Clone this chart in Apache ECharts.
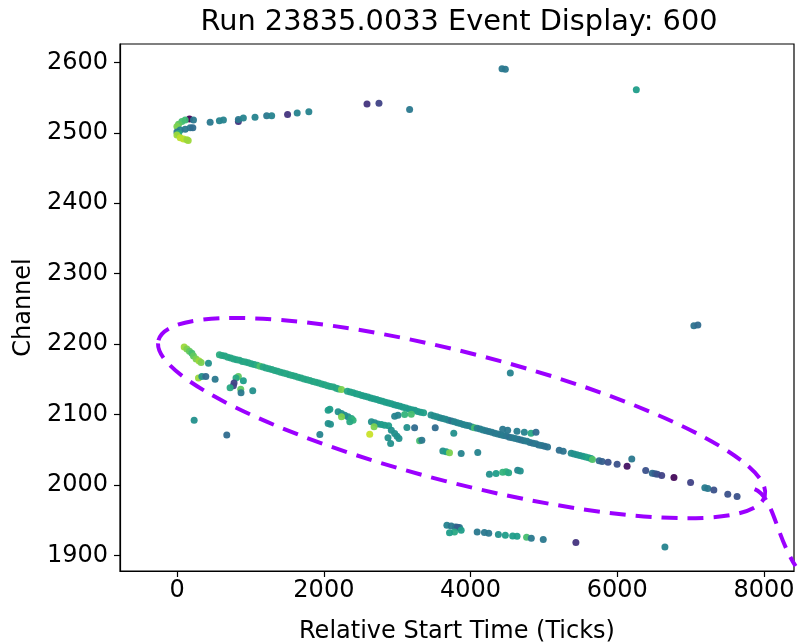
<!DOCTYPE html>
<html>
<head>
<meta charset="utf-8">
<script src="https://cdn.jsdelivr.net/npm/echarts@6/dist/echarts.min.js"></script>
<style>html,body{margin:0;padding:0;background:#fff;}#chart{width:798px;height:643px;}</style>
</head>
<body>
<div id="chart"></div>
<script>
// ---- data: [relative start time (ticks), channel, colour value 0..1] ----
const titleText = 'Run 23835.0033 Event Display: 600';
const xTicks = [0, 2000, 4000, 6000, 8000];
const yTicks = [1900, 2000, 2100, 2200, 2300, 2400, 2500, 2600];

const topHits = [
  [167,2519.5,0.0],[222,2518,0.4],[109,2518,0.68],[64,2516,0.7],[18,2512,0.75],[-4,2509,0.8],
  [41,2504,0.45],[109,2505,0.4],[177,2507,0.4],[213,2507,0.35],[-4,2501,0.4],[20,2499,0.6],
  [-4,2497,0.85],[41,2493,0.9],[86,2491,0.9],[132,2490,0.85],[150,2489,0.85],
  [449,2515,0.4],[575,2517,0.45],[630,2518,0.45],[834,2516,0.15],[834,2519,0.4],[902,2521,0.45],
  [1061,2522,0.45],[1220,2524,0.4],[1288,2524,0.45],[1505,2526,0.15],[1636,2528,0.45],[1795,2530,0.45],
  [2588,2541,0.15],[2751,2542,0.2],[3169,2533,0.4],
  [4429,2591,0.4],[4474,2590,0.4],[6260,2561,0.55]
];

const trackHits = [
  [575,2185,0.62],[610,2184,0.6],[650,2183,0.58],[690,2181.5,0.6],[730,2180.5,0.58],[770,2179,0.6],
  [810,2178,0.58],[850,2177,0.6],[890,2175.5,0.58],[930,2174.5,0.6],[970,2173.5,0.58],[1010,2172,0.6],
  [1050,2171,0.58],[1090,2170,0.62],[1130,2168.5,0.72],[1170,2167.5,0.6],[1210,2166,0.58],[1250,2165,0.6],
  [1290,2164,0.58],[1330,2162.5,0.6],[1370,2161.5,0.58],[1410,2160,0.6],[1450,2159,0.58],[1490,2158,0.6],
  [1530,2156.5,0.58],[1570,2155.5,0.6],[1610,2154.5,0.58],[1650,2153,0.6],[1690,2152,0.58],[1730,2150.5,0.6],
  [1770,2149.5,0.58],[1810,2148.5,0.6],[1850,2147,0.58],[1890,2146,0.6],[1930,2145,0.58],[1970,2143.5,0.6],
  [2010,2142.5,0.58],[2050,2141,0.6],[2090,2140,0.58],[2130,2139,0.6],[2170,2137.5,0.58],[2200,2136.5,0.6],
  [2240,2135.5,0.8],
  [2320,2133,0.58],[2360,2132,0.56],[2400,2131,0.58],[2440,2129.5,0.56],[2480,2128.5,0.58],[2520,2127,0.56],
  [2560,2126,0.55],[2600,2125,0.56],[2640,2123.5,0.55],[2680,2122.5,0.56],[2720,2121.5,0.55],[2760,2120,0.56],
  [2800,2119,0.55],[2840,2117.5,0.56],[2880,2116.5,0.55],[2920,2115.5,0.56],[2960,2114,0.55],[3000,2113,0.54],
  [3040,2112,0.55],[3080,2110.5,0.54],[3120,2109.5,0.55],[3160,2108,0.54],[3200,2107,0.55],[3240,2106,0.54],
  [3280,2104.5,0.55],[3320,2103.5,0.54],[3360,2102.5,0.56],
  [3460,2099.5,0.5],[3500,2098,0.48],[3540,2097,0.5],[3580,2095.5,0.48],[3620,2094.5,0.46],[3660,2093.5,0.48],
  [3700,2092,0.46],[3740,2091,0.38],[3780,2090,0.46],[3820,2088.5,0.45],[3860,2087.5,0.46],[3900,2086,0.45],
  [3940,2085,0.46],[3980,2084,0.45],[4020,2082.5,0.46],[4053,2081.5,0.7],[4090,2080.5,0.44],[4130,2079.5,0.42],
  [4170,2078,0.44],[4210,2077,0.42],[4250,2076,0.4],
  [4290,2075,0.42],[4330,2073.5,0.4],[4370,2072.5,0.42],[4410,2071.5,0.4],[4450,2070.5,0.42],[4490,2069.5,0.4],
  [4530,2068,0.38],[4570,2067,0.4],[4610,2066,0.42],[4650,2065,0.4],[4690,2064,0.38],[4730,2063,0.4],
  [4770,2062,0.42],[4810,2060.5,0.4],[4850,2059.5,0.38],[4890,2058.5,0.4],[4930,2057,0.38],[4970,2056,0.4],
  [5010,2055,0.38],[5050,2054,0.38],
  [5209,2049.5,0.36],[5263,2048,0.38],
  [5372,2045.2,0.48],[5410,2044,0.5],[5450,2043,0.5],[5490,2042,0.52],[5530,2040.8,0.52],[5570,2039.8,0.55],
  [5610,2038.6,0.58],[5644,2037.8,0.55],[5662,2036.3,0.72],
  [5753,2034.6,0.35],[5794,2033.5,0.3],[5875,2032.4,0.25],[5998,2029.6,0.25],[6134,2026.8,0.05],
  [6388,2020.7,0.25],[6478,2016.8,0.35],[6514,2016.1,0.3],[6546,2015.4,0.25],[6606,2013.6,0.2],
  [6773,2010.7,0.02],[7000,2003.6,0.2],[7194,1996.2,0.42],[7235,1995.1,0.4],[7317,1993.1,0.25],
  [7507,1987,0.25],[7634,1983.7,0.25]
];

const nearTrackHits = [
  [4438,2079.3,0.4],[4506,2077.9,0.4],[4633,2076.5,0.42],[4733,2075,0.45],[4824,2073.6,0.6],[4892,2075,0.35],
  [6198,2037.1,0.4],[4542,2159,0.45]
];

const lowerHits = [
  [95,2196,0.85],[132,2193,0.8],[167,2190,0.75],[200,2187,0.7],[222,2183,0.75],[258,2179,0.8],[299,2176,0.85],[326,2174,0.8],
  [426,2173,0.5],
  [290,2152,0.85],[336,2154,0.5],[390,2154,0.35],[517,2150,0.4],
  [834,2154,0.75],[802,2152,0.6],[775,2145,0.2],[766,2141,0.2],[902,2148,0.55],[721,2138,0.6],[866,2136,0.75],[870,2131,0.4],[1030,2134,0.5],
  [231,2092,0.5],[676,2071,0.35],
  [2058,2106.3,0.55],[2081,2107.7,0.55],
  [2194,2103.9,0.5],[2240,2101.6,0.5],[2285,2099.2,0.5],[2330,2096.8,0.5],[2376,2094.5,0.6],[2398,2092,0.65],[2353,2089.7,0.6],[2240,2096.8,0.8],
  [2058,2087.4,0.5],[2090,2086.4,0.5],[1945,2071.8,0.45],
  [2648,2089.7,0.5],[2693,2088.3,0.5],[2738,2086.8,0.5],[2784,2086,0.55],[2829,2085,0.55],[2883,2084,0.55],[2684,2082.6,0.8],
  [2625,2072.2,0.92],
  [2920,2077.9,0.5],[2965,2073.2,0.5],[2997,2069.4,0.5],[3024,2066,0.5],[2874,2067,0.5],[2910,2059,0.5],
  [2965,2097.8,0.45],[3010,2099,0.45],[3101,2100.2,0.65],[3192,2100.6,0.7],
  [3132,2081.7,0.5],[3237,2081.2,0.35],[3305,2062.7,0.7],[3336,2063.7,0.4],[3518,2081.2,0.35],[3771,2073.6,0.5],
  [3622,2048.5,0.5],[3668,2047.1,0.55],[3713,2045.7,0.8],[3872,2044.8,0.45],[4098,2046.2,0.45],
  [4257,2015.4,0.5],[4348,2016.4,0.55],[4438,2018.2,0.65],[4484,2018.7,0.65],[4519,2017.3,0.6],[4642,2021.1,0.45],[4678,2020.1,0.5]
];

const bottomHits = [
  [3677,1943,0.45],[3736,1942,0.4],[3794,1940.6,0.4],[3849,1939.7,0.4],[3820,1940,0.3],[3872,1935.9,0.55],
  [3781,1933.5,0.6],[3713,1932.2,0.55],
  [4090,1933.5,0.4],[4189,1932.6,0.4],[4248,1931.6,0.4],[4379,1929.8,0.5],[4474,1928.8,0.55],[4574,1927.8,0.55],
  [4634,1927.4,0.55],[4764,1926,0.7],[4828,1924.5,0.4],[4991,1922.7,0.4],[5436,1918.4,0.15],[6650,1912.2,0.45]
];

const isolatedHits = [[7045,2226,0.38],[7099,2227,0.35]];

// ellipse annotation centre in data units
const ellipseCentre = [3878, 2095];

const viridis = ['#440154','#482878','#3e4989','#31688e','#26828e','#1f9e89','#35b779','#6ece58','#b5de2b','#fde725'];
const FONT = 'DejaVu Sans';

const allHits = [].concat(topHits, trackHits, nearTrackHits, lowerHits, bottomHits, isolatedHits);

const chart = echarts.init(document.getElementById('chart'), null, {renderer: 'canvas'});

const plain = v => String(v);
const axisCommon = {
  type: 'value',
  axisLine: {show: true, onZero: false, lineStyle: {color: '#000', width: 1.2}},
  axisTick: {show: true, inside: false, length: 6, lineStyle: {color: '#000', width: 1.2}},
  splitLine: {show: false},
  nameLocation: 'middle',
  nameTextStyle: {fontSize: 24, fontFamily: FONT, color: '#000'}
};

chart.setOption({
  animation: false,
  backgroundColor: '#fff',
  title: {
    text: titleText, left: 454, top: 3, textAlign: 'center',
    textStyle: {fontSize: 28.8, fontWeight: 'normal', fontFamily: FONT, color: '#000'}
  },
  grid: {
    left: 120, right: 4, top: 44, bottom: 72, containLabel: false, outerBoundsMode: 'none',
    show: true, borderColor: '#000', borderWidth: 1.2, backgroundColor: 'transparent'
  },
  xAxis: Object.assign({}, axisCommon, {
    min: -780, max: 8410,
    name: 'Relative Start Time (Ticks)', nameGap: 49,
    axisTick: Object.assign({}, axisCommon.axisTick, {customValues: xTicks}),
    axisLabel: {customValues: xTicks, formatter: plain, fontSize: 24, fontFamily: FONT, color: '#000', margin: 8}
  }),
  yAxis: Object.assign({}, axisCommon, {
    min: 1878, max: 2626,
    name: 'Channel', nameGap: 80,
    axisTick: Object.assign({}, axisCommon.axisTick, {customValues: yTicks}),
    axisLabel: {customValues: yTicks, formatter: plain, fontSize: 24, fontFamily: FONT, color: '#000', margin: 12}
  }),
  visualMap: {
    show: false, type: 'continuous', min: 0, max: 1, dimension: 2, seriesIndex: 0,
    inRange: {color: viridis}
  },
  series: [{
    type: 'scatter',
    data: allHits,
    symbol: 'circle',
    symbolSize: 7,
    itemStyle: {opacity: 0.95}
  }]
});

const c = chart.convertToPixel({gridIndex: 0}, ellipseCentre);
chart.setOption({
  graphic: [
    {
      type: 'ellipse', x: c[0], y: c[1], rotation: -0.2513, z: 100,
      shape: {cx: 0, cy: 0, rx: 313, ry: 65},
      style: {fill: 'none', stroke: '#9b00ff', lineWidth: 4, lineDash: [16, 10]}
    },
    {
      type: 'bezierCurve', z: 100,
      shape: {x1: c[0] + 293, y1: c[1] + 71, cpx1: c[0] + 312, cpy1: c[1] + 79, cpx2: c[0] + 314, cpy2: c[1] + 117, x2: c[0] + 334, y2: c[1] + 148},
      style: {fill: 'none', stroke: '#9b00ff', lineWidth: 4, lineDash: [16, 10]}
    }
  ]
});
</script>
</body>
</html>
